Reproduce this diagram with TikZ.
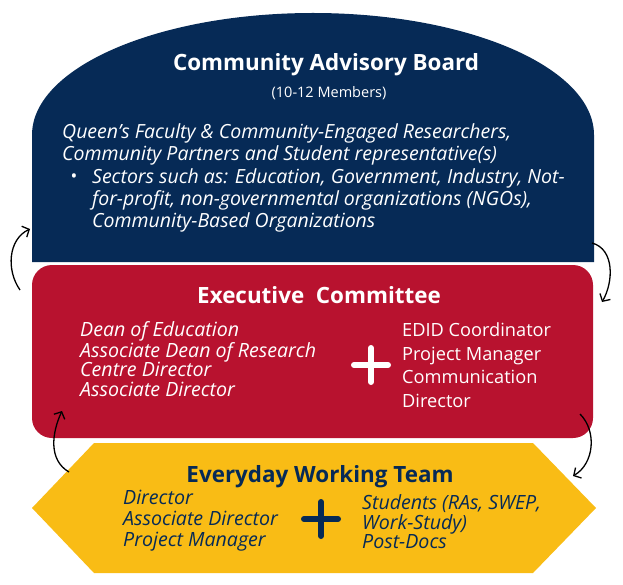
\documentclass[tikz,border=0pt]{standalone}
\usepackage{fontspec}
\setmainfont{Open Sans}
\usepackage{tikz}
\usetikzlibrary{positioning, arrows, arrows.meta}
\definecolor{boardblue}{HTML}{062A56}
\definecolor{execred}{HTML}{B8122F}
\definecolor{teamgold}{HTML}{F9BC15}
\def\sz#1#2{\fontsize{#1}{#2}\selectfont}

\begin{document}
\begin{tikzpicture}[x=1pt, y=-1pt,
              every node/.style = {inner sep=0pt, align=left},
              heading/.style = {font=\bfseries\sz{22.4}{26}, align=center},
              listtext/.style = {font=\itshape\sz{19.6}{19.5}},
              plainlist/.style = {font=\sz{18.2}{23.5}},
              loop/.style = {-{Straight Barb[length=5.5pt, width=12pt]}, line width=1.3pt, black}]
  \useasboundingbox (0,0) rectangle (623,585);
  % the three bodies
  \fill[boardblue] (32,262) -- (32,135) arc (180:360:281 and 122) -- (594,262) -- cycle;
  \fill[execred, rounded corners=20] (32,265) rectangle (593,438);
  \fill[teamgold] (32,508) -- (94,443) -- (533,443) -- (596,508) -- (533,573) -- (94,573) -- cycle;

  % Community Advisory Board
  \node[heading, white] (board) at (326,65) {Community Advisory Board};
  \node[white, font=\sz{14.5}{16}] (size) at (329,93) {(10-12 Members)};
  \node[white, font=\itshape\sz{19.5}{22.2}, anchor=north west] (members) at (62,123.5)
    {Queen’s Faculty \& Community-Engaged Researchers,\\
     Community Partners and Student representative(s)};
  \node[white, font=\sz{18}{22}] (dot) at (74,178) {\textbullet};
  \node[white, font=\itshape\sz{19.5}{22}, anchor=north west] (sectors) at (92,168)
    {Sectors such as: Education, Government, Industry, Not-\\
     for-profit, non-governmental organizations (NGOs),\\
     Community-Based Organizations};

  % Executive Committee
  \node[heading, white] (exec) at (319,295) {Executive~ Committee};
  \node[listtext, white, anchor=west] (deans) at (80,359)
    {Dean of Education\\ Associate Dean of Research\\ Centre Director\\ Associate Director};
  \node[plainlist, white, anchor=west] (staff) at (402,365)
    {EDID Coordinator\\ Project Manager\\ Communication\\ Director};
  \coordinate (plusA) at (371,365);
  \draw[white, line width=6pt, line cap=round] ([xshift=-17pt]plusA) -- ([xshift=17pt]plusA)
    ([yshift=-17pt]plusA) -- ([yshift=17pt]plusA);

  % Everyday Working Team
  \node[heading, boardblue] (team) at (320,477) {Everyday Working Team};
  \node[listtext, boardblue, font=\itshape\sz{19.6}{21}, anchor=west] (leads) at (123,520.5)
    {Director\\ Associate Director\\ Project Manager};
  \node[listtext, boardblue, font=\itshape\sz{19.6}{19.5}, anchor=west] (helpers) at (362,522)
    {Students (RAs, SWEP,\\ Work-Study)\\ Post-Docs};
  \coordinate (plusB) at (321,519);
  \draw[boardblue, line width=6pt, line cap=round] ([xshift=-17pt]plusB) -- ([xshift=17pt]plusB)
    ([yshift=-17pt]plusB) -- ([yshift=17pt]plusB);

  % feedback loops
  \coordinate (execL) at (20,290);   \coordinate (boardL) at (30,229);
  \coordinate (boardR) at (592,243); \coordinate (execR) at (602,302);
  \coordinate (teamL) at (69,472);   \coordinate (execLL) at (62,411);
  \coordinate (execRR) at (580,414); \coordinate (teamR) at (573,476);
  \draw[loop] (execL) to[out=125, in=205] (boardL);
  \draw[loop] (boardR) to[out=-15, in=60] (execR);
  \draw[loop] (teamL) to[out=150, in=245] (execLL);
  \draw[loop] (execRR) to[out=-45, in=30] (teamR);
\end{tikzpicture}
\end{document}
